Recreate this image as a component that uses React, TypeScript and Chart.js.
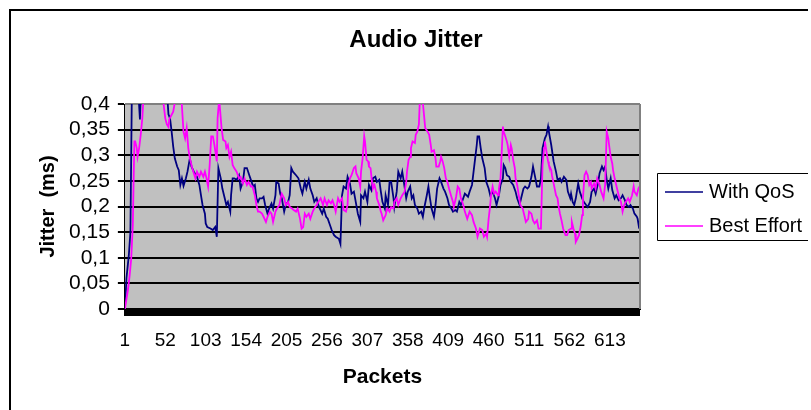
import React, { useEffect, useRef } from "react";
import { Chart, registerables } from "chart.js";

Chart.register(...registerables);

const chartTitle = "Audio Jitter";
const xAxisTitle = "Packets";
const yAxisTitle = "Jitter  (ms)";
const seriesNames = ["With QoS", "Best Effort"];
const seriesColors = ["#000080", "#FF00FF"];

const packetCount = 650;
const xTickLabels = [1, 52, 103, 154, 205, 256, 307, 358, 409, 460, 511, 562, 613];
const yTicks = [0, 0.05, 0.1, 0.15, 0.2, 0.25, 0.3, 0.35, 0.4];

// With QoS: packet numbers and jitter values (values above 0.4 are clipped by the plot area)
const qosPackets = [
  1, 3, 6, 8, 10, 17, 20, 22, 53, 56, 58, 60, 62, 64, 67, 69, 71, 73, 75, 78,
  80, 83, 85, 88, 92, 95, 97, 99, 102, 103, 105, 109, 112, 115, 117, 119, 122, 124, 127, 129,
  131, 134, 135, 137, 139, 142, 145, 147, 150, 152, 155, 158, 160, 163, 165, 167, 169, 171, 174, 176,
  178, 181, 183, 186, 188, 191, 192, 195, 197, 199, 202, 204, 207, 209, 211, 213, 217, 220, 223, 225,
  228, 230, 233, 235, 238, 240, 243, 245, 247, 250, 252, 255, 257, 260, 262, 265, 267, 271, 273, 275,
  277, 280, 282, 285, 287, 290, 293, 295, 298, 299, 302, 304, 307, 309, 312, 314, 317, 319, 322, 324,
  326, 329, 330, 333, 335, 337, 340, 341, 344, 346, 349, 351, 353, 356, 358, 361, 363, 365, 367, 370,
  372, 375, 377, 379, 382, 384, 386, 388, 391, 393, 395, 398, 400, 403, 405, 408, 410, 413, 415, 418,
  420, 423, 425, 428, 430, 434, 436, 439, 441, 443, 445, 446, 448, 450, 452, 455, 457, 460, 462, 465,
  468, 470, 473, 475, 478, 479, 481, 483, 486, 488, 491, 494, 496, 499, 501, 504, 506, 509, 511, 514,
  516, 519, 521, 524, 526, 528, 531, 533, 535, 536, 539, 542, 545, 547, 550, 552, 555, 558, 560, 563,
  564, 566, 568, 570, 573, 575, 578, 580, 583, 585, 588, 590, 593, 595, 598, 600, 603, 605, 607, 609,
  611, 614, 616, 619, 621, 624, 627, 629, 632, 634, 637, 639, 642, 644, 647, 648, 650,
];
const qosJitter = [
  0, 0.06, 0.105, 0.15, 0.45, 0.45, 0.37, 0.45, 0.45, 0.38, 0.372, 0.346, 0.317, 0.294, 0.278, 0.271, 0.242, 0.255, 0.24, 0.255,
  0.268, 0.294, 0.278, 0.268, 0.258, 0.242, 0.222, 0.203, 0.186, 0.167, 0.16, 0.157, 0.154, 0.16, 0.141, 0.275, 0.255, 0.235, 0.216, 0.203,
  0.209, 0.19, 0.222, 0.255, 0.255, 0.252, 0.261, 0.235, 0.248, 0.275, 0.275, 0.261, 0.252, 0.239, 0.242, 0.216, 0.209, 0.216, 0.216, 0.219,
  0.203, 0.186, 0.196, 0.206, 0.196, 0.222, 0.248, 0.245, 0.225, 0.216, 0.19, 0.203, 0.209, 0.222, 0.275, 0.268, 0.261, 0.255, 0.235, 0.225,
  0.248, 0.235, 0.252, 0.235, 0.222, 0.209, 0.216, 0.203, 0.196, 0.186, 0.196, 0.18, 0.176, 0.163, 0.154, 0.144, 0.141, 0.137, 0.127, 0.222,
  0.239, 0.235, 0.258, 0.245, 0.225, 0.229, 0.203, 0.186, 0.17, 0.222, 0.216, 0.229, 0.209, 0.242, 0.232, 0.255, 0.258, 0.248, 0.252, 0.229,
  0.209, 0.196, 0.222, 0.203, 0.248, 0.248, 0.216, 0.199, 0.229, 0.268, 0.255, 0.268, 0.248, 0.216, 0.229, 0.239, 0.216, 0.222, 0.203, 0.196,
  0.186, 0.19, 0.18, 0.199, 0.222, 0.239, 0.216, 0.196, 0.18, 0.203, 0.235, 0.255, 0.248, 0.235, 0.229, 0.216, 0.203, 0.196, 0.19, 0.193,
  0.19, 0.209, 0.203, 0.216, 0.225, 0.219, 0.229, 0.242, 0.268, 0.294, 0.32, 0.337, 0.337, 0.314, 0.294, 0.275, 0.248, 0.235, 0.222, 0.229,
  0.216, 0.203, 0.222, 0.242, 0.255, 0.281, 0.275, 0.261, 0.258, 0.248, 0.242, 0.229, 0.216, 0.203, 0.216, 0.235, 0.239, 0.235, 0.239, 0.258,
  0.278, 0.255, 0.239, 0.239, 0.255, 0.314, 0.333, 0.34, 0.356, 0.346, 0.32, 0.288, 0.268, 0.252, 0.255, 0.248, 0.258, 0.252, 0.229, 0.216,
  0.225, 0.209, 0.203, 0.216, 0.245, 0.229, 0.216, 0.209, 0.203, 0.199, 0.209, 0.229, 0.235, 0.225, 0.245, 0.265, 0.278, 0.271, 0.278, 0.252,
  0.235, 0.255, 0.232, 0.216, 0.222, 0.212, 0.216, 0.222, 0.212, 0.203, 0.199, 0.203, 0.196, 0.186, 0.18, 0.176, 0.157,
];

// Best Effort: packet numbers and jitter values
const bePackets = [
  1, 5, 7, 9, 11, 12, 13, 14, 16, 17, 19, 21, 23, 24, 26, 48, 50, 52, 54, 56,
  57, 62, 66, 72, 75, 77, 79, 81, 83, 86, 90, 92, 95, 97, 100, 102, 104, 106, 108, 110,
  112, 114, 117, 118, 120, 122, 123, 125, 128, 129, 131, 133, 135, 137, 139, 142, 145, 147, 150, 152,
  155, 157, 160, 162, 165, 167, 169, 171, 174, 176, 179, 181, 184, 186, 188, 191, 193, 196, 198, 199,
  202, 204, 207, 209, 212, 214, 217, 219, 222, 224, 226, 228, 230, 233, 235, 238, 240, 243, 245, 248,
  251, 253, 256, 258, 261, 263, 265, 267, 270, 272, 275, 277, 280, 282, 283, 285, 287, 290, 292, 293,
  296, 298, 299, 301, 303, 304, 306, 308, 309, 311, 313, 314, 316, 318, 319, 322, 324, 325, 327, 330,
  332, 335, 337, 340, 341, 344, 346, 349, 351, 354, 356, 357, 359, 361, 362, 364, 367, 368, 370, 372,
  373, 374, 376, 378, 380, 383, 385, 387, 388, 391, 393, 394, 397, 399, 400, 402, 404, 406, 408, 410,
  413, 415, 416, 419, 421, 423, 425, 428, 430, 433, 436, 439, 441, 444, 446, 449, 452, 454, 457, 458,
  460, 462, 463, 465, 467, 469, 472, 473, 475, 476, 478, 479, 481, 483, 484, 486, 488, 489, 491, 493,
  494, 496, 498, 500, 503, 505, 507, 510, 511, 514, 516, 518, 521, 523, 526, 528, 530, 531, 533, 535,
  536, 539, 540, 542, 545, 547, 548, 550, 552, 554, 557, 559, 561, 564, 565, 567, 569, 570, 572, 574,
  576, 578, 579, 581, 583, 585, 587, 589, 590, 593, 595, 597, 600, 602, 605, 607, 609, 611, 612, 614,
  616, 617, 619, 621, 622, 625, 627, 629, 631, 633, 636, 638, 641, 643, 644, 647, 649, 650,
];
const beJitter = [
  0, 0.039, 0.065, 0.098, 0.163, 0.248, 0.327, 0.327, 0.314, 0.297, 0.314, 0.34, 0.372, 0.4, 0.45, 0.45, 0.398, 0.372, 0.36, 0.355,
  0.37, 0.385, 0.42, 0.42, 0.346, 0.333, 0.353, 0.314, 0.294, 0.275, 0.255, 0.268, 0.258, 0.268, 0.258, 0.268, 0.255, 0.239, 0.281, 0.337,
  0.337, 0.32, 0.288, 0.372, 0.41, 0.372, 0.353, 0.33, 0.327, 0.314, 0.32, 0.297, 0.307, 0.281, 0.275, 0.268, 0.255, 0.258, 0.245, 0.255,
  0.242, 0.248, 0.239, 0.239, 0.222, 0.203, 0.19, 0.19, 0.186, 0.18, 0.17, 0.18, 0.19, 0.186, 0.17, 0.19, 0.196, 0.203, 0.219, 0.225,
  0.216, 0.203, 0.209, 0.199, 0.196, 0.193, 0.19, 0.196, 0.176, 0.157, 0.16, 0.186, 0.18, 0.186, 0.176, 0.19, 0.196, 0.203, 0.209, 0.216,
  0.203, 0.216, 0.203, 0.212, 0.206, 0.212, 0.203, 0.19, 0.216, 0.209, 0.216, 0.193, 0.19, 0.203, 0.242, 0.255, 0.261, 0.275, 0.278, 0.265,
  0.255, 0.239, 0.268, 0.294, 0.337, 0.327, 0.291, 0.288, 0.278, 0.275, 0.245, 0.235, 0.242, 0.229, 0.216, 0.203, 0.19, 0.186, 0.173, 0.183,
  0.196, 0.19, 0.199, 0.196, 0.209, 0.216, 0.203, 0.216, 0.222, 0.229, 0.248, 0.268, 0.291, 0.297, 0.314, 0.327, 0.324, 0.34, 0.346, 0.36,
  0.4, 0.42, 0.42, 0.386, 0.353, 0.346, 0.34, 0.32, 0.307, 0.31, 0.294, 0.278, 0.278, 0.288, 0.297, 0.288, 0.275, 0.255, 0.248, 0.235,
  0.219, 0.209, 0.199, 0.219, 0.239, 0.235, 0.216, 0.203, 0.19, 0.176, 0.19, 0.183, 0.17, 0.157, 0.141, 0.157, 0.154, 0.141, 0.147, 0.141,
  0.176, 0.203, 0.222, 0.239, 0.225, 0.229, 0.222, 0.235, 0.255, 0.288, 0.356, 0.346, 0.337, 0.327, 0.32, 0.297, 0.32, 0.314, 0.291, 0.275,
  0.255, 0.242, 0.222, 0.203, 0.196, 0.183, 0.17, 0.176, 0.19, 0.186, 0.173, 0.167, 0.173, 0.157, 0.157, 0.281, 0.314, 0.327, 0.307, 0.288,
  0.281, 0.271, 0.26, 0.245, 0.222, 0.216, 0.203, 0.186, 0.173, 0.157, 0.144, 0.144, 0.154, 0.157, 0.17, 0.157, 0.147, 0.131, 0.137, 0.144,
  0.16, 0.183, 0.216, 0.261, 0.268, 0.261, 0.242, 0.248, 0.235, 0.245, 0.235, 0.255, 0.242, 0.229, 0.216, 0.242, 0.346, 0.333, 0.32, 0.297,
  0.284, 0.271, 0.255, 0.242, 0.235, 0.216, 0.209, 0.19, 0.203, 0.209, 0.216, 0.209, 0.222, 0.239, 0.229, 0.222, 0.235, 0.239,
];

const FONT = '"Liberation Sans", Arial, Helvetica, sans-serif';

const fmtComma = (v: number) => String(Math.round(v * 100) / 100).replace(".", ",");

const decorPlugin = {
  id: "decor",
  beforeDraw(chart: any) {
    const { ctx, chartArea: a } = chart;
    ctx.save();
    ctx.fillStyle = "#FFFFFF";
    ctx.fillRect(0, 0, chart.width, chart.height);
    // outer chart frame (only top and left edges fall inside the picture)
    ctx.strokeStyle = "#000000";
    ctx.lineWidth = 2;
    ctx.beginPath();
    ctx.moveTo(10, chart.height + 5);
    ctx.lineTo(10, 10);
    ctx.lineTo(chart.width - 3, 10);
    ctx.stroke();
    ctx.fillStyle = "#C0C0C0";
    ctx.fillRect(a.left, a.top, a.right - a.left, a.bottom - a.top);
    ctx.restore();
  },
  afterDraw(chart: any) {
    const { ctx, chartArea: a } = chart;
    ctx.save();
    // plot area border (right)
    ctx.strokeStyle = "#808080";
    ctx.lineWidth = 2;
    ctx.beginPath();
    ctx.moveTo(a.right, a.top);
    ctx.lineTo(a.right, a.bottom);
    ctx.stroke();
    // title
    ctx.fillStyle = "#000";
    ctx.font = `bold 24px ${FONT}`;
    ctx.textAlign = "center";
    ctx.textBaseline = "middle";
    ctx.fillText(chartTitle, 416, 40);
    // legend
    ctx.fillStyle = "#FFFFFF";
    ctx.fillRect(657, 173, 200, 67);
    ctx.strokeStyle = "#000";
    ctx.lineWidth = 1;
    ctx.beginPath();
    ctx.moveTo(chart.width - 3, 173.5);
    ctx.lineTo(657.5, 173.5);
    ctx.lineTo(657.5, 240.5);
    ctx.lineTo(chart.width - 3, 240.5);
    ctx.stroke();
    const rows = [192, 226];
    chart.data.datasets.forEach((ds: any, i: number) => {
      const y = rows[i];
      ctx.strokeStyle = ds.borderColor;
      ctx.lineWidth = 1.5;
      ctx.beginPath();
      ctx.moveTo(665, y);
      ctx.lineTo(703, y);
      ctx.stroke();
      ctx.fillStyle = "#000";
      ctx.font = `20px ${FONT}`;
      ctx.textAlign = "left";
      ctx.textBaseline = "alphabetic";
      ctx.fillText(ds.label, 709, y + 5.5);
    });
    ctx.restore();
  },
};

export default function App() {
  const ref = useRef<HTMLCanvasElement | null>(null);

  useEffect(() => {
    if (!ref.current) return;
    const tickValues: number[] = [];
    for (let p = 1; p <= packetCount; p++) tickValues.push(p);
    const labelSet = new Set(xTickLabels);

    const chart = new Chart(ref.current, {
      type: "line",
      data: {
        datasets: [
          {
            label: seriesNames[0],
            data: qosPackets.map((p, i) => ({ x: p, y: qosJitter[i] })),
            borderColor: seriesColors[0],
            backgroundColor: seriesColors[0],
            borderWidth: 1.8,
            pointRadius: 0,
            tension: 0,
            fill: false,
            clip: 0,
            order: 1,
          },
          {
            label: seriesNames[1],
            data: bePackets.map((p, i) => ({ x: p, y: beJitter[i] })),
            borderColor: seriesColors[1],
            backgroundColor: seriesColors[1],
            borderWidth: 1.8,
            pointRadius: 0,
            tension: 0,
            fill: false,
            clip: 0,
            order: 0,
          },
        ],
      },
      options: {
        responsive: false,
        devicePixelRatio: 1,
        animation: false,
        events: [],
        layout: { padding: { left: 36, top: 104, right: 171, bottom: 20 } },
        plugins: {
          legend: { display: false },
          title: { display: false },
          tooltip: { enabled: false },
        },
        scales: {
          x: {
            type: "linear",
            min: 1,
            max: packetCount + 1,
            afterBuildTicks: (axis: any) => {
              axis.ticks = tickValues.map((v) => ({ value: v }));
            },
            ticks: {
              autoSkip: false,
              maxRotation: 0,
              minRotation: 0,
              padding: 13,
              color: "#000",
              font: { family: FONT, size: 19 },
              callback: (v: any) => (labelSet.has(Number(v)) ? String(v) : ""),
            },
            grid: {
              drawOnChartArea: false,
              drawTicks: true,
              tickLength: 7,
              color: "#000",
              tickColor: "#000",
              lineWidth: 1,
            },
            border: { color: "#000", width: 1 },
            title: {
              display: true,
              text: xAxisTitle,
              color: "#000",
              font: { family: FONT, size: 21, weight: "bold" },
              padding: { top: 0, bottom: 0 },
            },
          },
          y: {
            type: "linear",
            min: yTicks[0],
            max: yTicks[yTicks.length - 1],
            afterBuildTicks: (axis: any) => {
              axis.ticks = yTicks.map((v) => ({ value: v }));
            },
            ticks: {
              autoSkip: false,
              padding: 8,
              color: "#000",
              font: { family: FONT, size: 21 },
              callback: (v: any) => fmtComma(Number(v)),
            },
            grid: {
              color: (c: any) => (c.tick && c.tick.value >= 0.4 ? "#808080" : "#000"),
              tickColor: "#000",
              lineWidth: 2,
              tickLength: 7,
            },
            border: { color: "#000", width: 1 },
            title: {
              display: true,
              text: yAxisTitle,
              color: "#000",
              font: { family: FONT, size: 20, weight: "bold" },
              padding: { top: 0, bottom: 1 },
            },
          },
        },
      },
      plugins: [decorPlugin],
    } as any);

    return () => chart.destroy();
  }, []);

  return (
    <div
      style={{
        position: "fixed",
        left: 0,
        top: 0,
        width: 811,
        height: 410,
        overflow: "hidden",
        background: "#fff",
      }}
    >
      <canvas ref={ref} width={811} height={410} style={{ display: "block", width: 811, height: 410 }} />
    </div>
  );
}
